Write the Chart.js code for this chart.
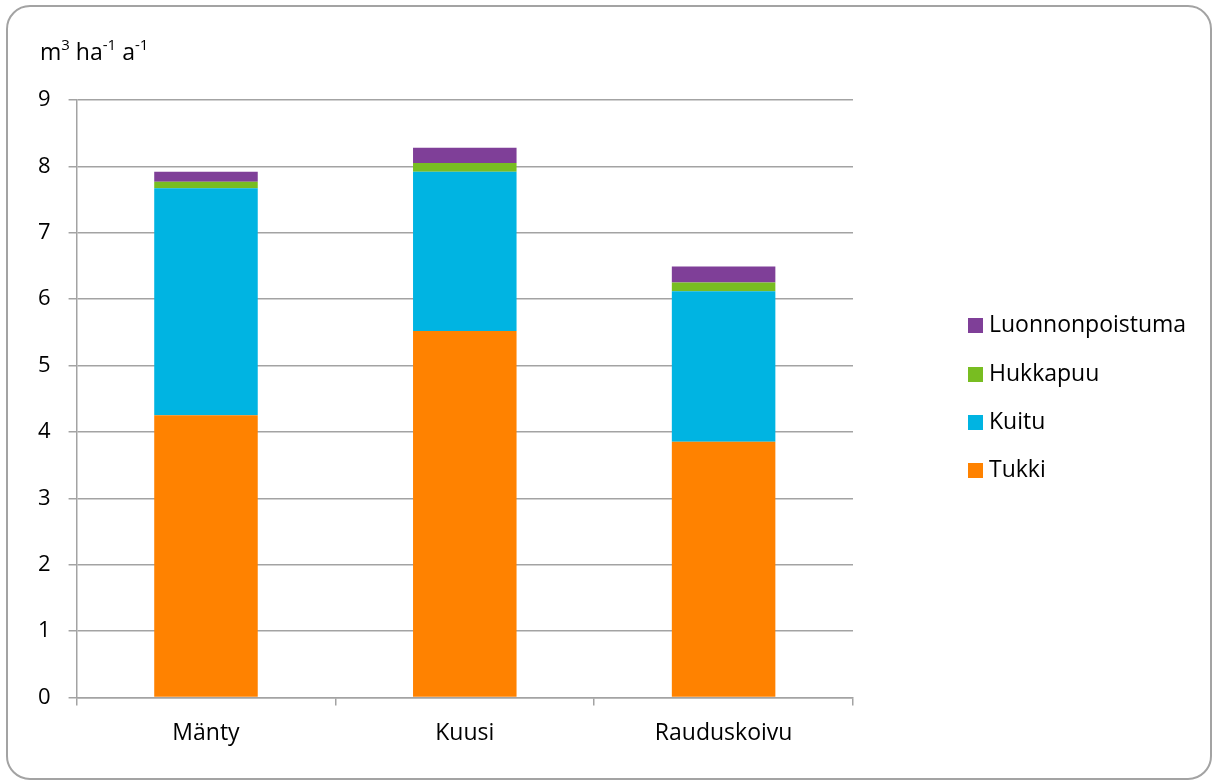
<!DOCTYPE html>
<html>
<head>
<meta charset="utf-8">
<script src="https://cdn.jsdelivr.net/npm/chart.js@4/dist/chart.umd.min.js"></script>
<style>
  body { margin: 0; background: #fff; font-family: "Open Sans", sans-serif; }
  #wrap { position: relative; width: 1212px; height: 781px; }
  #frame { position: absolute; left: 6px; top: 5px; width: 1206px; height: 775px;
    box-sizing: border-box; border: 2px solid #a3a3a3; border-radius: 24px; }
  #unit { position: absolute; left: 40px; top: 35px; font-size: 23px; color: #000; }
  #unit sup { font-size: 15px; vertical-align: 10px; line-height: 0; }
  #legend { position: absolute; left: 968px; top: 0; font-size: 23px; color: #000; }
  #legend div { position: absolute; white-space: nowrap; height: 26px; line-height: 26px; }
  #legend span { display: inline-block; width: 15px; height: 15px; margin-right: 6px; vertical-align: -1px; }
</style>
</head>
<body>
<div id="wrap">
  <canvas id="myChart" width="1212" height="781"></canvas>
  <div id="frame"></div>
  <div id="unit">m<sup>3</sup> ha<sup>-1</sup> a<sup>-1</sup></div>
  <div id="legend"></div>
</div>
<script>
// puulajit ja kasvun jakautuminen (m3/ha/v)
var labels = ["Mänty", "Kuusi", "Rauduskoivu"];
var tukki = [4.25, 5.52, 3.85];
var kuitu = [3.42, 2.40, 2.27];
var hukkapuu = [0.10, 0.13, 0.13];
var luonnonpoistuma = [0.15, 0.23, 0.24];
var yTicks = [0, 1, 2, 3, 4, 5, 6, 7, 8, 9];

var colors = {
  tukki: '#ff8200',
  kuitu: '#00b4e2',
  hukkapuu: '#78bd21',
  luonnonpoistuma: '#7f3f98'
};

var ctx = document.getElementById("myChart").getContext("2d");
var myChart = new Chart(ctx, {
  type: 'bar',
  data: {
    labels: labels,
    datasets: [
      { label: "Tukki", data: tukki, backgroundColor: colors.tukki },
      { label: "Kuitu", data: kuitu, backgroundColor: colors.kuitu },
      { label: "Hukkapuu", data: hukkapuu, backgroundColor: colors.hukkapuu },
      { label: "Luonnonpoistuma", data: luonnonpoistuma, backgroundColor: colors.luonnonpoistuma }
    ]
  },
  options: {
    responsive: false,
    animation: false,
    layout: { padding: { left: 20, top: 100, right: 359, bottom: 20 } },
    datasets: { bar: { barPercentage: 0.4, categoryPercentage: 1.0 } },
    plugins: {
      legend: { display: false },
      tooltip: { enabled: false }
    },
    scales: {
      x: {
        stacked: true,
        grid: { offset: true, drawOnChartArea: false, tickLength: 8, color: '#a3a3a3', lineWidth: 1.5 },
        border: { color: '#a3a3a3', width: 1.5 },
        ticks: { padding: 14, color: '#000', font: { family: 'Open Sans', size: 23 } }
      },
      y: {
        stacked: true,
        min: 0,
        max: 9,
        afterBuildTicks: function(axis) {
          axis.ticks = yTicks.map(function(v) { return { value: v }; });
        },
        grid: { tickLength: 8, color: '#a3a3a3', lineWidth: 1.5 },
        border: { color: '#a3a3a3', width: 1.5 },
        ticks: { padding: 18, color: '#000', font: { family: 'Open Sans', size: 22 } }
      }
    }
  }
});

// selite oikealle, ylin sarja ensin
var legendRows = [323, 372, 420, 468];
var ds = myChart.data.datasets.slice().reverse();
var legend = document.getElementById("legend");
for (var i = 0; i < ds.length; i++) {
  var row = document.createElement("div");
  row.style.top = (legendRows[i] - 13) + "px";
  row.innerHTML = '<span style="background:' + ds[i].backgroundColor + '"></span>' + ds[i].label;
  legend.appendChild(row);
}
</script>
</body>
</html>
